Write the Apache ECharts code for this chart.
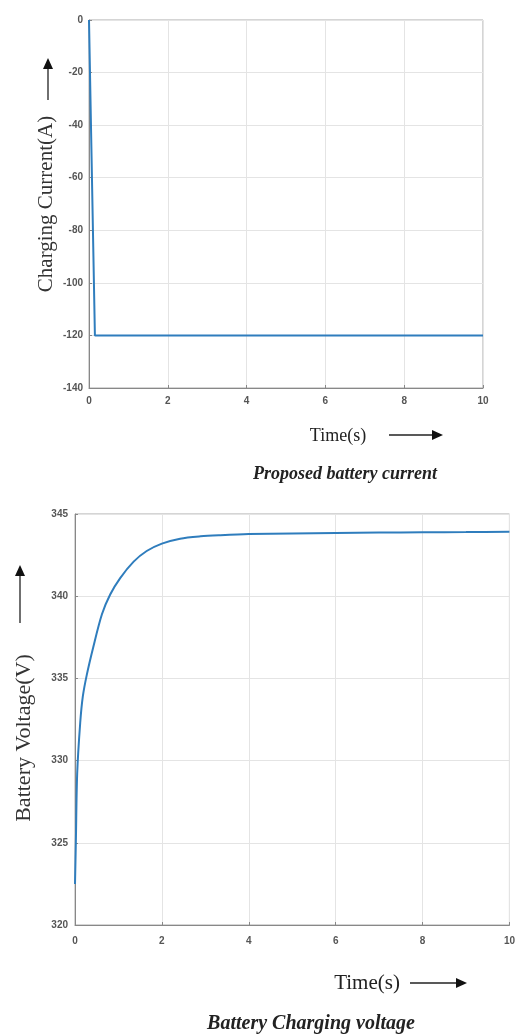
<!DOCTYPE html>
<html>
<head>
<meta charset="utf-8">
<script src="https://cdn.jsdelivr.net/npm/echarts@6/dist/echarts.min.js"></script>
<style>
  html, body { margin: 0; padding: 0; background: #fff; }
  #chart { width: 518px; height: 1035px; }
</style>
</head>
<body>
<div id="chart"></div>
<script>
// 1. data
// top: battery charging current
const currentTime = [0, 0.15, 10];
const currentValue = [0, -120, -120];
// bottom: battery charging voltage
const voltageTime = [0, 0.02, 0.05, 0.12, 0.18, 0.27, 0.42, 0.62, 0.81, 1.04, 1.35, 1.65, 2.0, 2.42, 2.89, 3.35, 4, 5, 6, 7, 8, 9, 10];
const voltageValue = [322.5, 325.1, 329.2, 332.3, 333.9, 335.2, 336.9, 338.9, 340.1, 341.1, 342.1, 342.75, 343.2, 343.5, 343.64, 343.71, 343.78, 343.82, 343.85, 343.87, 343.89, 343.9, 343.92];
const timeTicks = [0, 2, 4, 6, 8, 10];

const lineColor = '#2f7dbd';
const tickFont = { color: '#555', fontSize: 10, fontWeight: 'bold', fontFamily: 'Liberation Sans' };
const serif = 'Liberation Serif';

// pair up x/y
const pairs = (xs, ys) => xs.map((x, i) => [x, ys[i]]);

// axis helpers (matlab-like box with light grid)
const xAxisOf = (gridIndex, margin) => ({
  type: 'value', gridIndex: gridIndex, min: timeTicks[0], max: timeTicks[timeTicks.length - 1], interval: timeTicks[1] - timeTicks[0],
  axisLine: { onZero: false, lineStyle: { color: '#888', width: 1 } },
  axisTick: { inside: true, length: 3, lineStyle: { color: '#888' } },
  axisLabel: Object.assign({ margin: margin }, tickFont),
  splitLine: { show: true, lineStyle: { color: '#e4e4e4', width: 1 } }
});
const yAxisOf = (gridIndex, min, max, interval, margin) => ({
  type: 'value', gridIndex: gridIndex, min: min, max: max, interval: interval,
  axisLine: { show: true, lineStyle: { color: '#888', width: 1 } },
  axisTick: { show: true, inside: true, length: 3, lineStyle: { color: '#888' } },
  axisLabel: Object.assign({ margin: margin }, tickFont),
  splitLine: { show: true, lineStyle: { color: '#e4e4e4', width: 1 } }
});

// arrow drawn as a line + triangle
const arrow = (x1, y1, x2, y2) => {
  const ang = Math.atan2(y2 - y1, x2 - x1);
  const L = 11, W = 5;
  const bx = x2 - L * Math.cos(ang), by = y2 - L * Math.sin(ang);
  const px = -Math.sin(ang) * W, py = Math.cos(ang) * W;
  return [
    { type: 'line', shape: { x1: x1, y1: y1, x2: bx, y2: by }, style: { stroke: '#222', lineWidth: 1.3 } },
    { type: 'polygon', shape: { points: [[x2, y2], [bx + px, by + py], [bx - px, by - py]] }, style: { fill: '#111' } }
  ];
};

const vText = (x, y, text, size) => ({
  type: 'text', x: x, y: y, rotation: Math.PI / 2,
  style: { text: text, fill: '#333', font: size + 'px "' + serif + '"', textAlign: 'center', textVerticalAlign: 'middle' }
});
const hText = (x, y, text, font) => ({
  type: 'text', x: x, y: y,
  style: { text: text, fill: '#222', font: font, textAlign: 'center', textVerticalAlign: 'middle' }
});

let chart = echarts.init(document.getElementById('chart'));
let option = {
  backgroundColor: '#fff',
  animation: false,
  grid: [
    { left: 89, top: 20, width: 394, height: 368, show: true, borderColor: '#aaa', borderWidth: 1 },
    { left: 75, top: 514, width: 440, height: 411, show: true, borderColor: '#aaa', borderWidth: 1 }
  ],
  xAxis: [xAxisOf(0, 8), xAxisOf(1, 11)],
  yAxis: [yAxisOf(0, -140, 0, 20, 6), yAxisOf(1, 320, 345, 5, 7)],
  series: [
    {
      type: 'line', xAxisIndex: 0, yAxisIndex: 0, showSymbol: false,
      data: pairs(currentTime, currentValue),
      lineStyle: { color: lineColor, width: 2 }
    },
    {
      type: 'line', xAxisIndex: 1, yAxisIndex: 1, showSymbol: false, smooth: 0.3,
      data: pairs(voltageTime, voltageValue),
      lineStyle: { color: lineColor, width: 2 }
    }
  ],
  graphic: [].concat(
    // top chart labels
    [vText(46, 204, 'Charging Current(A)', 21)],
    arrow(48, 100, 48, 58),
    [hText(338, 436, 'Time(s)', '18px "' + serif + '"')],
    arrow(389, 435, 443, 435),
    [hText(345, 474, 'Proposed battery current', 'italic bold 18px "' + serif + '"')],
    // bottom chart labels
    [vText(24, 738, 'Battery Voltage(V)', 22)],
    arrow(20, 623, 20, 565),
    [hText(367, 983, 'Time(s)', '21px "' + serif + '"')],
    arrow(410, 983, 467, 983),
    [hText(311, 1024, 'Battery Charging voltage', 'italic bold 20px "' + serif + '"')]
  )
};
option && chart.setOption(option);
</script>
</body>
</html>
